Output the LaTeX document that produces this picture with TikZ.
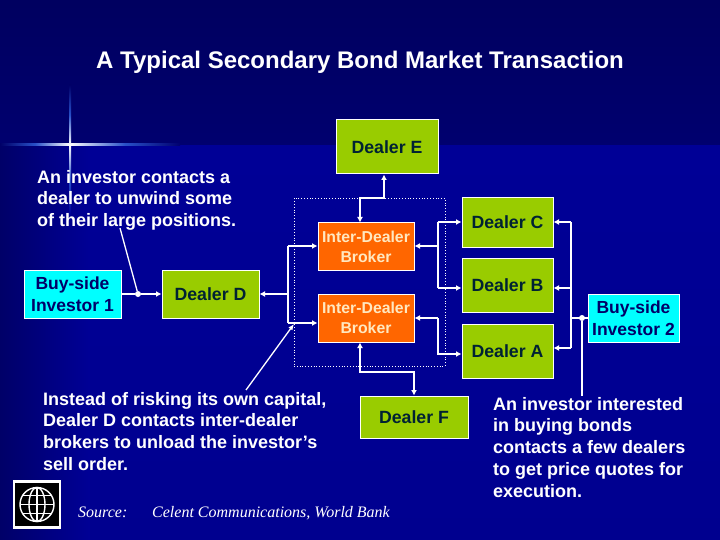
\documentclass[tikz,border=0pt]{standalone}
\usepackage{fontspec}
\setmainfont{Liberation Sans}
\newfontfamily\timesit{Liberation Serif}
\usetikzlibrary{arrows.meta,calc}
\definecolor{navy}{HTML}{000068}
\definecolor{bluebg}{HTML}{000096}
\definecolor{flare}{HTML}{2850C8}
\definecolor{gbox}{HTML}{99CC00}
\definecolor{obox}{HTML}{FF6600}
\definecolor{cbox}{HTML}{00FFFF}
\definecolor{dtext}{HTML}{002233}
\definecolor{btext}{HTML}{FFE8C0}
\tikzset{
  basebox/.style={draw=white,line width=1pt,inner sep=0pt,align=center,font=\fontsize{17.7}{21.5}\selectfont\bfseries},
  dealer/.style={basebox,fill=gbox,text=dtext},
  broker/.style={basebox,fill=obox,text=btext,font=\fontsize{15.8}{20}\selectfont\bfseries},
  investor/.style={basebox,fill=cbox,text=navy,font=\fontsize{17.5}{21.5}\selectfont\bfseries},
  link/.style={white,line width=2pt,-{Latex[length=5.5pt,width=6pt]}},
  both/.style={white,line width=2pt,{Latex[length=5.5pt,width=6pt]}-{Latex[length=5.5pt,width=6pt]}},
  plain/.style={white,line width=2pt},
  thin line/.style={white,line width=1.3pt},
  note/.style={white,anchor=north west,align=left,inner sep=0pt,font=\fontsize{18}{21.7}\selectfont\bfseries},
  jdot/.style={circle,fill=white,inner sep=0pt,minimum size=6pt},
  srcnote/.style={white,anchor=base west,inner sep=0pt,font=\timesit\itshape\fontsize{16}{18}\selectfont}
}
\begin{document}
\begin{tikzpicture}[x=1pt,y=-1pt]
\useasboundingbox (0,0) rectangle (720,540);
% background
\fill[navy] (0,0) rectangle (720,540);
\shade[top color=navy!92!black,bottom color=navy!85!bluebg] (0,0) rectangle (720,146);
\shade[left color=navy,right color=bluebg] (0,146) rectangle (90,540);
\shade[top color=bluebg,bottom color=bluebg!85!navy] (90,146) rectangle (720,540);
% flare
\shade[left color=navy,right color=white,middle color=flare] (0,144) rectangle (70,146);
\shade[left color=white,right color=navy!85!bluebg,middle color=flare] (70,144) rectangle (180,146);
\shade[top color=navy,bottom color=white,middle color=flare] (69,85) rectangle (71,145);
\shade[top color=white,bottom color=bluebg,middle color=flare] (69,145) rectangle (71,215);
% title
\node[white,anchor=base west,inner sep=0pt,font=\fontsize{24}{26}\selectfont\bfseries] (title) at (96,69) {A Typical Secondary Bond Market Transaction};
% dotted area
\node[draw=white,dotted,line width=0.8pt,minimum width=151pt,minimum height=168pt,inner sep=0pt] (area) at (369.5,282) {};
% boxes
\node[dealer,minimum width=102pt,minimum height=54pt] (dE) at (387,147) {Dealer E};
\node[dealer,minimum width=91pt,minimum height=49pt] (dC) at (507.5,222.5) {Dealer C};
\node[dealer,minimum width=91pt,minimum height=54pt] (dB) at (507.5,285) {Dealer B};
\node[dealer,minimum width=91pt,minimum height=54pt] (dA) at (507.5,351) {Dealer A};
\node[dealer,minimum width=108pt,minimum height=42pt] (dF) at (414,417) {Dealer F};
\node[dealer,minimum width=97pt,minimum height=48pt] (dD) at (210.5,294) {Dealer D};
\node[broker,minimum width=96pt,minimum height=47pt] (b1) at (366,246.5) {Inter-Dealer\\Broker};
\node[broker,minimum width=96pt,minimum height=48pt] (b2) at (366,318) {Inter-Dealer\\Broker};
\node[investor,minimum width=97pt,minimum height=48pt] (i1) at (72.5,294) {Buy-side\\Investor 1};
\node[investor,minimum width=91pt,minimum height=48pt] (i2) at (633.5,318) {Buy-side\\Investor 2};
% notes
\node[note] (n1) at (37,170) {An investor contacts a\\dealer to unwind some\\of their large positions.};
\node[note] (n2) at (43,392) {Instead of risking its own capital,\\Dealer D contacts inter-dealer\\brokers to unload the investor’s\\sell order.};
\node[note] (n3) at (493,397) {An investor interested\\in buying bonds\\contacts a few dealers\\to get price quotes for\\execution.};
\node[srcnote] (s1) at (78,517) {Source:};
\node[srcnote] (s2) at (152,517) {Celent Communications, World Bank};
% junctions
\node[jdot] (j1) at (138,294) {};
\node[jdot] (j2) at (582,318) {};
\coordinate (busL) at (288,294);
\coordinate (busLt) at (288,246);
\coordinate (busLb) at (288,323);
\coordinate (up1) at (384,198);
\coordinate (up2) at (360,198);
\coordinate (busM) at (438,246);
\coordinate (busMt) at (438,222);
\coordinate (busMb) at (438,288);
\coordinate (m2) at (438,318);
\coordinate (m2b) at (438,354);
\coordinate (busR) at (571,318);
\coordinate (busRt) at (571,222);
\coordinate (busRm) at (571,288);
\coordinate (busRb) at (571,348);
\coordinate (lo1) at (360,372);
\coordinate (lo2) at (414,372);
\coordinate (c1) at (120,228);
\coordinate (c2) at (246,390);
\coordinate (c3) at (582,396);
% connectors
\draw[plain] (i1.east) -- (j1);
\draw[link] (j1) -- (dD.west);
\draw[thin line] (c1) -- (j1);
\draw[link] (busL) -- (dD.east);
\draw[plain] (busLt) -- (busLb);
\draw[link] (busLt) -- (busLt -| b1.west);
\draw[link] (busLb) -- (busLb -| b2.west);
\draw[thin line,-{Latex[length=6pt,width=5pt]}] (c2) -- (294,324);
\draw[both] (dE.south -| up1) -- (up1) -- (up2) -- (up2 |- b1.north);
\draw[link] (busM) -- (busM -| b1.east);
\draw[plain] (busMt) -- (busMb);
\draw[link] (busMt) -- (busMt -| dC.west);
\draw[link] (busMb) -- (busMb -| dB.west);
\draw[link] (m2) -- (m2 -| b2.east);
\draw[link] (m2) -- (m2b) -- (m2b -| dA.west);
\draw[plain] (busRt) -- (busRb);
\draw[link] (busRt) -- (busRt -| dC.east);
\draw[link] (busRm) -- (busRm -| dB.east);
\draw[link] (busRb) -- (busRb -| dA.east);
\draw[thin line] (busR) -- (i2.west);
\draw[plain] (j2) -- (c3);
\draw[both] (lo1 |- b2.south) -- (lo1) -- (lo2) -- (lo2 |- dF.north);
% logo
\node[draw=white,fill=black,line width=2.5pt,minimum width=46pt,minimum height=46pt,inner sep=0pt] (logo) at (37,504.5) {};
\begin{scope}[white,line width=1.4pt]
\draw (logo.center) circle (17);
\draw (logo.center) ellipse (8 and 17);
\draw ($(logo.center)+(0,-17)$) -- ($(logo.center)+(0,17)$);
\draw ($(logo.center)+(-17,0)$) -- ($(logo.center)+(17,0)$);
\draw ($(logo.center)+(-14.5,-9)$) -- ($(logo.center)+(14.5,-9)$);
\draw ($(logo.center)+(-14.5,9)$) -- ($(logo.center)+(14.5,9)$);
\end{scope}
\end{tikzpicture}
\end{document}
